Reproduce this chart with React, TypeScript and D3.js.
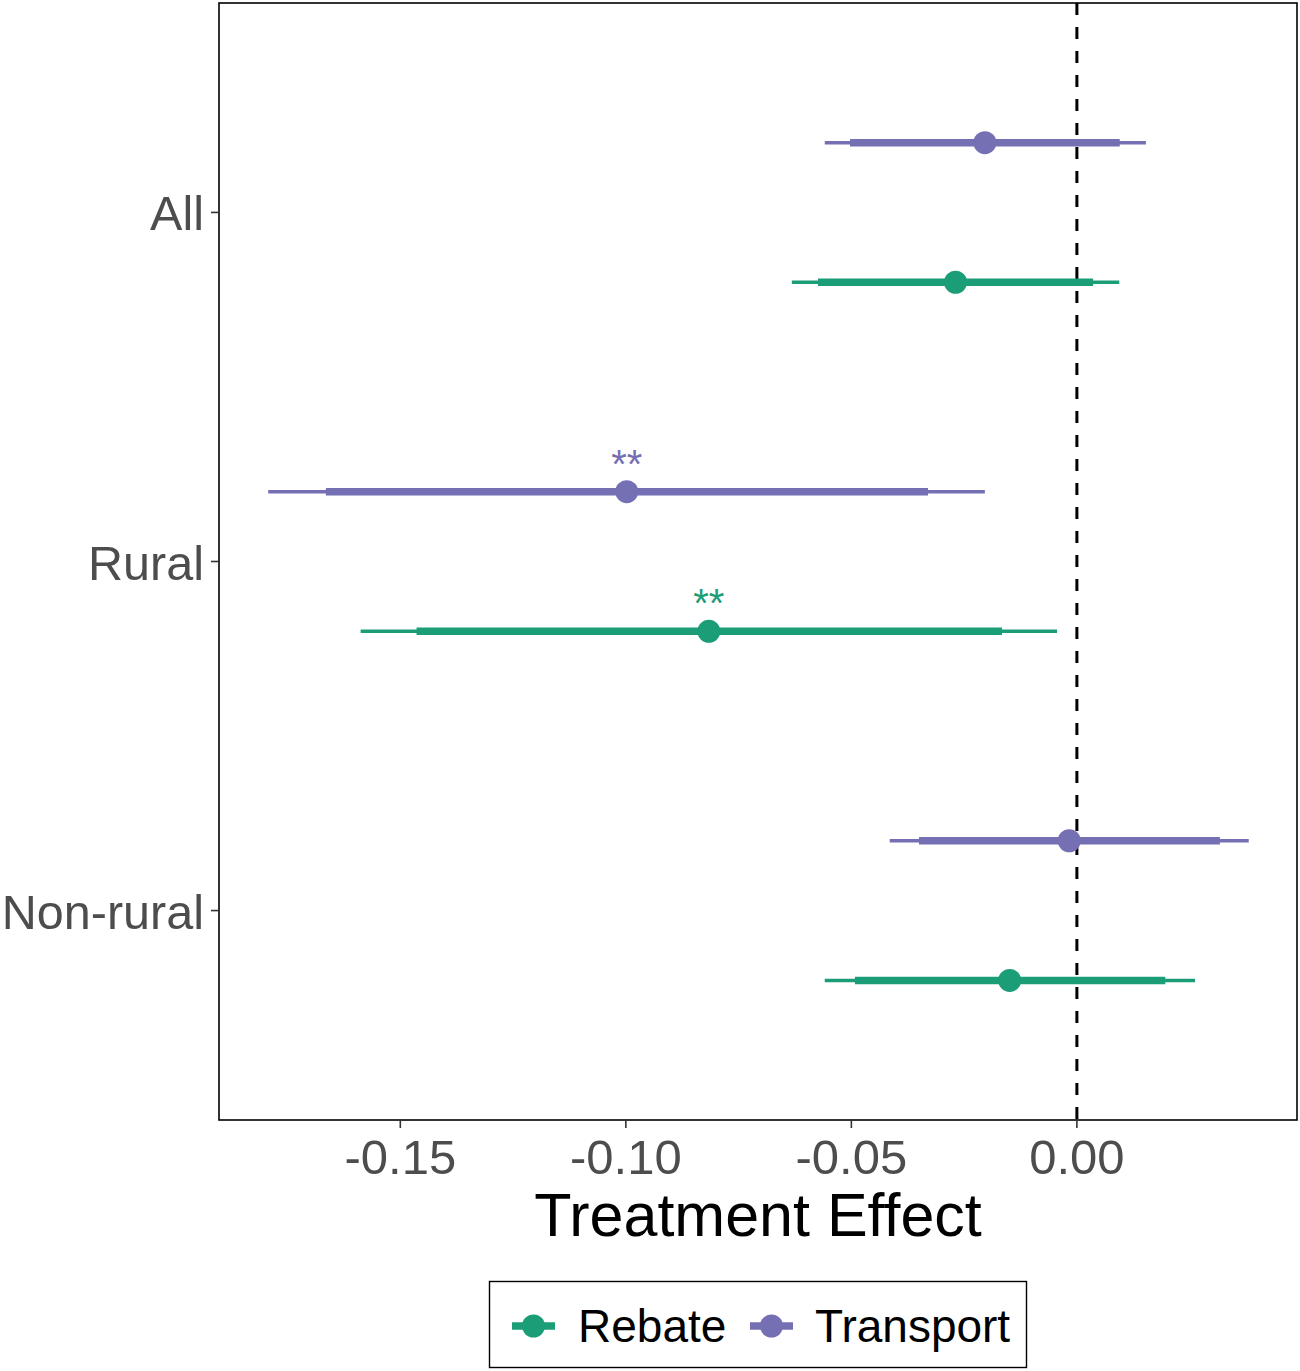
import * as d3 from "d3";
import { useEffect, useRef } from "react";

const categories = ["All", "Rural", "Non-rural"];
const seriesNames = ["Rebate", "Transport"];
const seriesColors = ["#1B9E77", "#7570B3"];

// estimates per category, [Rebate, Transport]
const estimate = [
  [-0.0269, -0.0204],
  [-0.0816, -0.0998],
  [-0.0149, -0.0017],
];
// 90% interval (thick)
const lo90 = [
  [-0.0574, -0.0503],
  [-0.1464, -0.1665],
  [-0.0492, -0.035],
];
const hi90 = [
  [0.0036, 0.0095],
  [-0.0166, -0.033],
  [0.0196, 0.0317],
];
// 95% interval (thin)
const lo95 = [
  [-0.0632, -0.0559],
  [-0.1588, -0.1793],
  [-0.0559, -0.0415],
];
const hi95 = [
  [0.0094, 0.0153],
  [-0.0044, -0.0204],
  [0.0262, 0.0381],
];
const stars = [
  ["", ""],
  ["**", "**"],
  ["", ""],
];
const xTicks = [-0.15, -0.1, -0.05, 0];

export default function App() {
  const svgRef = useRef(null);

  useEffect(() => {
    const width = 1300;
    const height = 1371;
    const m = { left: 219, right: 1297, top: 3, bottom: 1120 };

    const svg = d3.select(svgRef.current).attr("width", width).attr("height", height);
    svg.selectAll("*").remove();

    const x = d3.scaleLinear().domain([-0.1902, 0.0488]).range([m.left, m.right]);
    const y = d3.scalePoint().domain(categories).range([m.top, m.bottom]).padding(0.6);
    const step = y.step();
    // Rebate below, Transport above
    const dodge = [0.2 * step, -0.2 * step];

    const font = "Liberation Sans, Arial, sans-serif";

    // dashed zero line
    svg
      .append("line")
      .attr("x1", x(0))
      .attr("x2", x(0))
      .attr("y1", m.top)
      .attr("y2", m.bottom)
      .attr("stroke", "black")
      .attr("stroke-width", 3)
      .attr("stroke-dasharray", "12,12");

    const rows = [];
    categories.forEach((c, i) => {
      seriesNames.forEach((s, j) => {
        rows.push({ c, i, j });
      });
    });

    const g = svg.append("g");
    rows.forEach((r) => {
      const cy = y(r.c) + dodge[r.j];
      const col = seriesColors[r.j];
      g.append("line")
        .attr("x1", x(lo95[r.i][r.j]))
        .attr("x2", x(hi95[r.i][r.j]))
        .attr("y1", cy)
        .attr("y2", cy)
        .attr("stroke", col)
        .attr("stroke-width", 3.5);
      g.append("line")
        .attr("x1", x(lo90[r.i][r.j]))
        .attr("x2", x(hi90[r.i][r.j]))
        .attr("y1", cy)
        .attr("y2", cy)
        .attr("stroke", col)
        .attr("stroke-width", 7.5);
      g.append("circle")
        .attr("cx", x(estimate[r.i][r.j]))
        .attr("cy", cy)
        .attr("r", 11.5)
        .attr("fill", col);
      if (stars[r.i][r.j]) {
        g.append("text")
          .attr("x", x(estimate[r.i][r.j]))
          .attr("y", cy - 14)
          .attr("text-anchor", "middle")
          .attr("font-family", font)
          .attr("font-size", 40)
          .attr("fill", col)
          .text(stars[r.i][r.j]);
      }
    });

    // panel border
    svg
      .append("rect")
      .attr("x", m.left)
      .attr("y", m.top)
      .attr("width", m.right - m.left)
      .attr("height", m.bottom - m.top)
      .attr("fill", "none")
      .attr("stroke", "black")
      .attr("stroke-width", 1.6);

    // x axis
    const xa = svg.append("g").attr("transform", `translate(0,${m.bottom})`);
    xTicks.forEach((t) => {
      xa.append("line")
        .attr("x1", x(t))
        .attr("x2", x(t))
        .attr("y1", 0)
        .attr("y2", 8)
        .attr("stroke", "#333333")
        .attr("stroke-width", 1.6);
      xa.append("text")
        .attr("x", x(t))
        .attr("y", 54)
        .attr("text-anchor", "middle")
        .attr("font-family", font)
        .attr("font-size", 49)
        .attr("fill", "#4D4D4D")
        .text(d3.format(".2f")(t).replace("−", "-"));
    });

    // y axis
    const ya = svg.append("g");
    categories.forEach((c) => {
      ya.append("line")
        .attr("x1", m.left - 8)
        .attr("x2", m.left)
        .attr("y1", y(c))
        .attr("y2", y(c))
        .attr("stroke", "#333333")
        .attr("stroke-width", 1.6);
      ya.append("text")
        .attr("x", m.left - 15)
        .attr("y", y(c) + 18)
        .attr("text-anchor", "end")
        .attr("font-family", font)
        .attr("font-size", 48.5)
        .attr("fill", "#4D4D4D")
        .text(c);
    });

    // axis title
    svg
      .append("text")
      .attr("x", (m.left + m.right) / 2)
      .attr("y", 1236)
      .attr("text-anchor", "middle")
      .attr("font-family", font)
      .attr("font-size", 61)
      .attr("fill", "black")
      .text("Treatment Effect");

    // legend
    const lg = svg.append("g");
    lg.append("rect")
      .attr("x", 489.5)
      .attr("y", 1281.5)
      .attr("width", 537)
      .attr("height", 86)
      .attr("fill", "white")
      .attr("stroke", "black")
      .attr("stroke-width", 1.4);
    const keyX = [512, 750];
    const textX = [578, 815];
    seriesNames.forEach((s, j) => {
      const ky = 1326;
      lg.append("line")
        .attr("x1", keyX[j])
        .attr("x2", keyX[j] + 43)
        .attr("y1", ky)
        .attr("y2", ky)
        .attr("stroke", seriesColors[j])
        .attr("stroke-width", 7.5);
      lg.append("circle")
        .attr("cx", keyX[j] + 21.5)
        .attr("cy", ky)
        .attr("r", 11.5)
        .attr("fill", seriesColors[j]);
      lg.append("text")
        .attr("x", textX[j])
        .attr("y", ky + 16)
        .attr("font-family", font)
        .attr("font-size", 46)
        .attr("fill", "black")
        .text(s);
    });
  }, []);

  return <svg ref={svgRef} style={{ position: "absolute", left: 0, top: 0 }}></svg>;
}
